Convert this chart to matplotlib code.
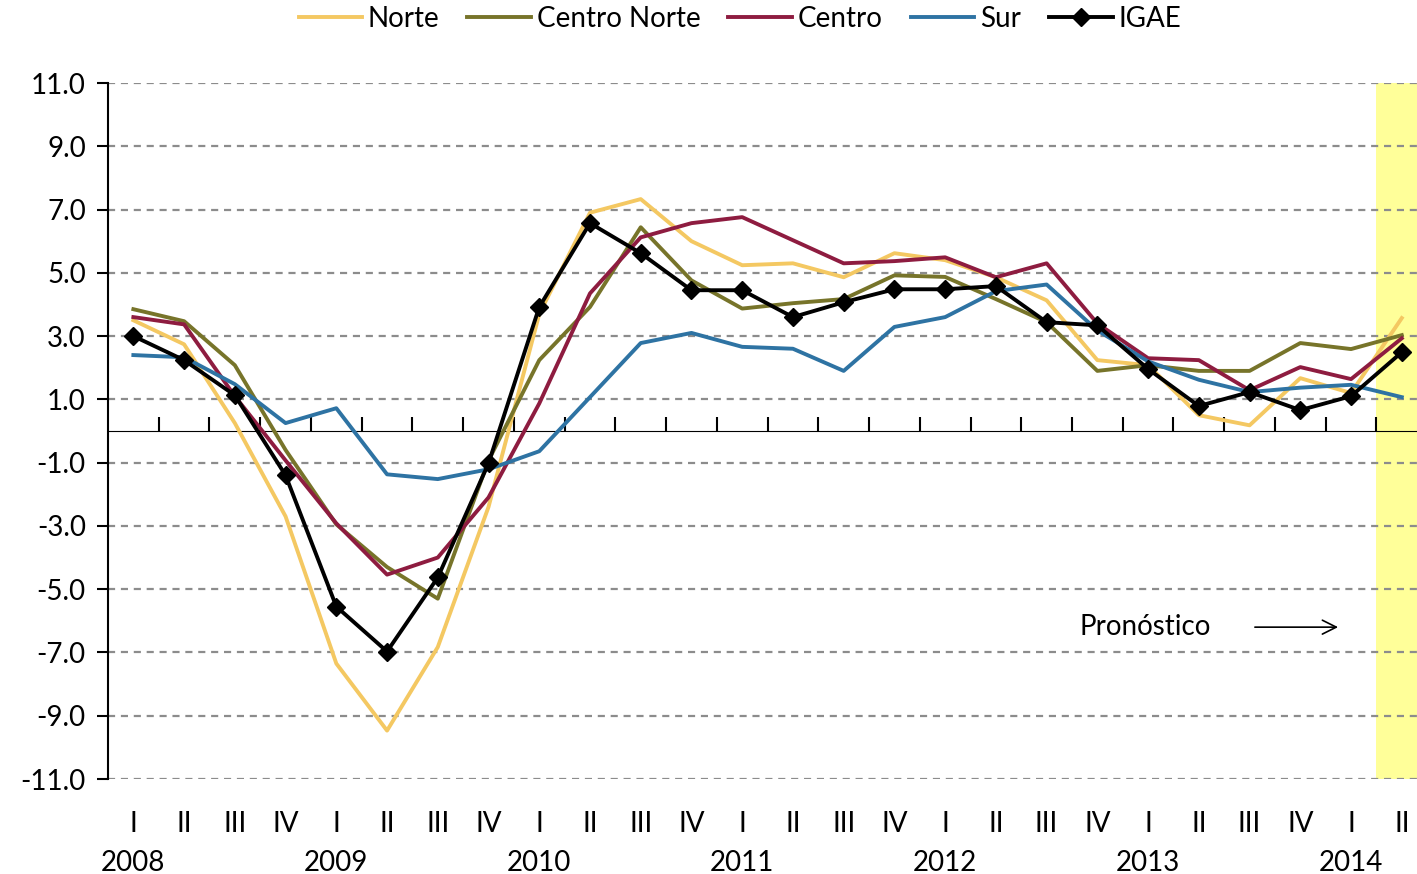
import numpy as np
import matplotlib.pyplot as plt

plt.rcParams['font.family'] = ['Lato', 'DejaVu Sans']
plt.rcParams['font.size'] = 20
plt.rcParams['axes.unicode_minus'] = False

# quarters 2008 I .. 2014 II
quarters = ['I', 'II', 'III', 'IV'] * 6 + ['I', 'II']
years = ['2008', '2009', '2010', '2011', '2012', '2013', '2014']

norte = [3.5, 2.74, 0.25, -2.7, -7.35, -9.47, -6.83, -2.4, 3.7, 6.9, 7.33, 6.0, 5.24,
         5.3, 4.86, 5.62, 5.4, 4.86, 4.13, 2.24, 2.08, 0.5, 0.18, 1.67, 1.2, 3.57]
centro_norte = [3.85, 3.47, 2.08, -0.6, -2.95, -4.3, -5.3, -0.93, 2.24, 3.92, 6.44, 4.76, 3.87,
                4.04, 4.17, 4.92, 4.87, 4.17, 3.44, 1.9, 2.08, 1.9, 1.9, 2.78, 2.59, 3.03]
centro = [3.6, 3.37, 1.1, -0.93, -2.92, -4.54, -4.0, -2.1, 0.87, 4.35, 6.12, 6.57, 6.76,
          6.03, 5.3, 5.37, 5.49, 4.86, 5.3, 3.4, 2.3, 2.24, 1.29, 2.02, 1.64, 2.93]
sur = [2.4, 2.33, 1.48, 0.25, 0.72, -1.37, -1.52, -1.21, -0.64, 1.07, 2.78, 3.1, 2.66,
       2.6, 1.9, 3.29, 3.6, 4.42, 4.63, 3.18, 2.2, 1.62, 1.23, 1.37, 1.46, 1.07]
igae = [3.0, 2.24, 1.13, -1.4, -5.55, -6.97, -4.63, -1.02, 3.92, 6.57, 5.62, 4.45, 4.45,
        3.6, 4.07, 4.48, 4.48, 4.58, 3.44, 3.34, 1.96, 0.79, 1.23, 0.66, 1.1, 2.49]

x = np.arange(len(quarters))

fig = plt.figure(figsize=(14.17, 8.74), dpi=100)
ax = fig.add_axes([108/1417, 95/874, 1 - 108/1417, 696/874])

# forecast shading (last quarter)
ax.axvspan(x[-1] - 0.5, x[-1] + 0.5, color='#FFFF99', zorder=0, lw=0)

for v in np.arange(-11, 12, 2):
    ax.axhline(v, color='#8C8C8C', lw=1.6, ls=(0, (3.2, 2.6)), zorder=1)

lw = 2.8
ax.plot(x, norte, color='#F4C862', lw=lw, label='Norte', zorder=3)
ax.plot(x, centro_norte, color='#77742A', lw=lw, label='Centro Norte', zorder=3)
ax.plot(x, centro, color='#8E1C40', lw=lw, label='Centro', zorder=3)
ax.plot(x, sur, color='#2E73A3', lw=lw, label='Sur', zorder=3)
ax.plot(x, igae, color='black', lw=lw, marker='D', markersize=9, label='IGAE', zorder=4)

ax.set_xlim(-0.5, 25.3)
ax.set_ylim(-11, 11)
ax.set_yticks(np.arange(-11, 12, 2))
ax.set_yticklabels([f'{v:.1f}' for v in np.arange(-11, 12, 2)])
ax.tick_params(axis='y', direction='out', length=8, width=1.5, pad=8)
for s in ['top', 'right', 'bottom']:
    ax.spines[s].set_visible(False)
ax.spines['left'].set_linewidth(1.5)

# quarter labels at bottom
ax.set_xticks(x)
ax.set_xticklabels(quarters)
ax.tick_params(axis='x', length=0, pad=23)

# zero axis with tick marks between categories
zero = ax.secondary_xaxis(0.5)
zero.set_xticks(x[:-1] + 0.5)
zero.set_xticklabels([])
zero.tick_params(direction='out', length=10, width=1.5)
zero.spines['bottom'].set_linewidth(1.5)

# years under first quarter
yr = ax.secondary_xaxis('bottom')
yr.set_xticks(x[::4])
yr.set_xticklabels(years)
yr.tick_params(length=0, pad=51)
yr.spines['bottom'].set_visible(False)

ax.text(19.94, -6.2, 'Pronóstico', ha='center', va='center', fontsize=20)
ax.annotate('', xy=(23.8, -6.2), xytext=(22.05, -6.2),
            arrowprops=dict(arrowstyle='->', color='black', lw=1.2, mutation_scale=25))

fig.legend(loc='upper center', bbox_to_anchor=(0.522, 1.022), ncol=5, frameon=False,
           handlelength=2.3, columnspacing=1.0, handletextpad=0.2, fontsize=20)

fig.savefig('out.png', dpi=100)
